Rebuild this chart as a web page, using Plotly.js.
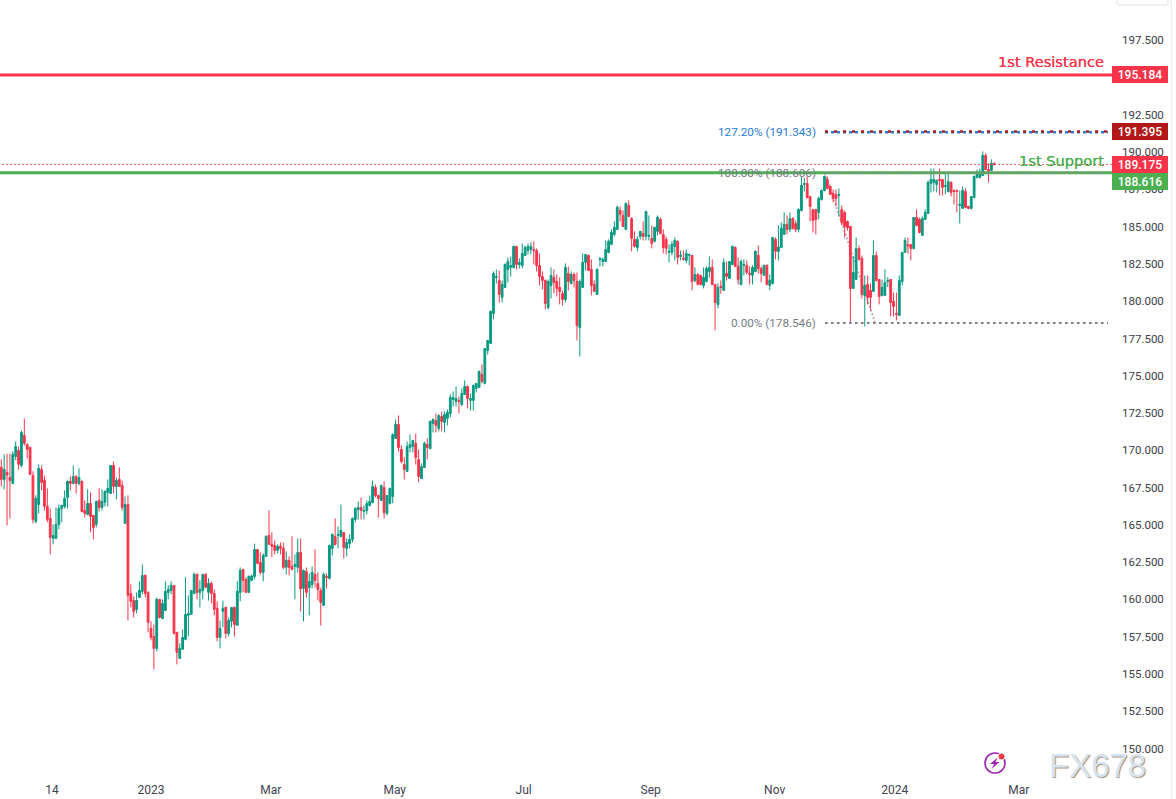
<!DOCTYPE html>
<html><head><meta charset="utf-8">
<script src="https://cdn.plot.ly/plotly-3.0.1.min.js"></script>
<style>html,body{margin:0;padding:0;background:#fff}#c{width:1176px;height:799px}</style></head>
<body><div id="c"></div>
<script>
// Candle direction: R = close below open, G = close above open
const direction = ("RGRRGGRGRR RRGGRRRRGG GGGGRGRGRR GRRGRGGGGR GRRGRRRGGG RRRRGRGGGG RRGGGGGGRG GRGRRRGGRG GRGGRRGGGR RGGRRRGRRG " +
"RRGGRGRGGR RRGRGGRGGR GGGGGRGGGG RRGRGGGGRR RGGGRRGGRG GRGRGGGGGR GGRGGGGRGG GGGRGGGGGR GGGGGRRRRR GGRRRRGRGR " +
"RGGGRRRGGG GGGGGRRGRR RGGRGGRGGR RRGGGRGRGG RGRRGGGRRG RGRGGRRGGR RGGRRGRGGR GGGRGRRGGG RRRRGGGRRR RGRRRRGGRR " +
"GRRGRRGGGRR RGGGRRGRRG GGGGGRRGGR RRGGRRGGGG GRRGR").replace(/ /g,"");

const bodyTop = [
168.86,168.72,168.52,168.18,169.73,170.26,169.99,171.2,171.0,170.4,
170.2,168.32,166.78,168.79,168.72,167.98,166.24,165.43,164.29,165.03,
166.1,166.31,166.78,167.92,167.92,168.25,168.25,168.18,167.92,165.97,
166.44,166.44,165.64,166.57,166.64,166.57,167.25,167.45,168.99,168.99,
167.98,168.05,167.65,166.37,166.37,160.4,159.93,159.93,160.6,161.61,
161.61,160.47,158.06,157.52,160.0,160.0,159.73,160.54,160.67,160.94,
160.94,157.79,156.71,157.45,159.0,159.06,160.6,161.68,161.68,160.67,
161.68,161.68,161.07,161.07,160.4,159.4,158.06,159.4,159.46,158.59,
159.46,159.46,160.54,161.95,162.02,161.34,161.54,161.57,163.35,163.35,
162.48,162.95,164.23,164.29,163.69,163.62,163.56,163.56,163.42,162.62,
162.62,162.21,162.35,163.15,163.15,161.94,161.87,161.2,161.81,161.67,
161.07,160.6,161.67,161.54,163.62,164.36,164.22,164.36,164.62,164.49,
163.82,164.02,165.43,166.1,166.17,166.17,165.97,166.44,166.57,167.58,
167.51,166.97,167.64,167.51,166.97,167.44,171.06,171.74,171.74,170.06,
169.05,170.26,170.39,170.66,170.46,169.39,168.92,170.46,170.39,171.94,
172.07,172.0,172.34,172.27,172.41,172.54,173.55,173.55,173.48,173.35,
173.82,174.28,174.28,173.48,174.35,174.49,175.29,175.09,176.83,177.37,
179.32,181.86,181.66,181.4,181.13,182.47,182.67,182.4,183.68,183.68,
182.6,183.2,183.61,183.68,183.68,183.47,183.41,182.4,181.66,181.4,
181.33,181.73,181.6,181.33,180.93,180.52,182.27,181.86,181.8,181.8,
181.33,181.33,182.61,183.14,183.08,182.14,181.13,182.14,182.88,182.81,
183.48,184.02,184.62,184.96,186.3,186.1,185.76,186.57,186.43,185.56,
184.15,184.15,184.69,184.55,186.03,184.42,184.22,184.96,185.63,185.49,
184.49,184.15,183.35,183.82,184.08,184.02,183.08,182.88,183.21,183.14,
183.08,181.8,181.8,181.73,181.6,182.2,182.27,182.27,181.13,180.93,
181.0,182.61,181.87,182.67,183.68,183.61,182.34,182.67,182.47,182.41,
181.87,182.27,183.35,183.08,182.2,182.41,182.41,181.4,184.28,184.15,
183.64,184.89,185.16,185.16,185.54,185.56,185.2,186.16,187.77,187.9,
187.9,187.03,186.16,186.16,186.9,187.43,188.37,188.17,187.7,187.23,
187.17,187.17,186.16,185.96,185.35,185.02,181.93,183.54,183.54,182.87,
181.06,181.13,180.73,183.07,183.07,181.46,180.93,181.26,181.4,181.46,179.99,
179.18,181.4,183.28,184.08,183.79,183.81,185.62,185.62,185.49,185.56,
185.96,187.97,188.17,188.17,188.11,188.17,188.17,187.77,188.04,187.97,
187.43,187.43,186.5,187.43,187.37,186.36,187.03,188.37,188.51,188.51,
189.78,189.78,188.84,189.25,189.25];

const bodyBottom = [
168.05,168.05,168.34,167.98,167.78,169.59,169.06,168.99,170.47,170.06,
168.39,165.37,165.23,166.37,167.85,166.24,165.37,164.16,164.09,164.09,
165.03,166.1,166.24,166.84,167.78,167.78,167.78,167.78,165.9,165.77,
165.7,165.57,164.83,165.03,166.17,166.17,166.51,167.18,167.11,167.58,
167.58,167.58,166.17,165.1,160.27,159.87,159.2,159.33,160.13,160.54,
160.4,158.46,157.45,156.71,156.71,158.79,158.73,159.26,160.47,160.6,
157.72,156.45,156.04,156.65,157.32,158.93,159.0,160.4,160.47,160.47,
160.6,160.81,160.47,160.4,159.33,157.45,157.45,159.2,157.72,157.72,
158.53,158.32,158.26,160.47,161.28,160.47,160.47,161.28,161.54,162.42,
161.81,161.81,162.89,163.69,163.56,163.29,163.29,163.42,162.15,162.15,
162.15,162.02,162.21,162.15,160.73,160.73,160.47,160.8,161.0,161.27,
160.67,159.79,159.6,161.47,161.41,163.42,163.69,164.29,164.22,163.49,
163.42,163.75,164.02,165.36,166.03,165.97,165.9,165.97,166.3,166.5,
166.97,166.77,166.64,165.83,165.77,166.44,166.91,170.8,170.19,169.25,
168.72,168.58,170.19,170.26,169.52,168.25,168.11,168.85,170.19,170.12,
171.8,171.67,171.47,171.94,171.87,172.14,172.47,173.41,173.28,173.28,
173.08,173.75,173.48,173.35,173.35,174.15,174.22,174.62,174.49,176.7,
177.17,179.18,181.6,180.46,180.25,180.93,182.13,182.27,182.27,182.47,
182.47,182.4,183.07,183.41,183.47,183.41,182.4,181.66,181.4,179.85,
179.58,181.06,181.26,180.86,180.66,180.12,180.12,181.33,181.19,181.4,
178.38,178.24,180.93,182.61,182.07,181.06,180.66,180.46,182.81,182.67,
182.67,183.28,183.82,184.49,184.82,185.83,185.02,184.82,185.69,184.22,
183.68,183.61,184.35,184.35,184.35,184.35,183.88,184.02,184.69,184.55,
183.61,183.55,183.28,183.28,183.68,182.94,183.01,182.81,182.74,183.08,
181.33,181.4,181.13,181.13,181.06,181.33,182.0,181.13,179.92,179.79,
180.93,180.73,181.67,181.53,182.47,182.34,181.47,181.13,182.41,181.94,
181.8,181.74,182.0,182.2,181.87,181.74,181.13,181.06,181.2,183.35,
183.35,183.61,184.49,184.82,184.82,184.89,184.82,184.82,186.09,187.84,
186.96,186.36,185.42,185.49,185.96,186.83,187.43,187.57,187.17,186.9,
186.9,187.1,185.29,185.02,184.95,180.86,180.86,181.46,182.81,180.46,
180.39,180.26,180.26,180.66,181.4,180.32,180.39,180.39,181.33,179.92,179.65,
179.12,179.05,181.33,183.28,183.72,183.54,183.54,185.09,184.62,184.42,
185.49,185.89,187.9,187.97,187.84,188.11,187.64,187.7,187.37,187.3,
187.37,187.37,186.43,186.23,186.3,186.23,186.23,186.96,188.31,188.31,
188.44,188.84,188.71,188.78,189.18];

const wickHigh = [
169.39,169.73,169.77,169.77,169.93,170.6,170.26,171.34,172.14,170.47,
170.2,168.59,166.98,169.06,168.99,168.32,167.45,166.1,165.03,166.17,
166.37,166.31,167.31,167.98,168.25,168.99,168.32,168.79,167.98,166.64,
167.38,167.18,165.64,166.64,167.45,167.38,167.31,168.05,168.99,169.26,
168.18,168.86,167.98,166.91,166.98,161.01,160.2,160.47,161.21,162.35,
161.68,160.54,158.53,158.32,160.13,160.0,160.0,161.21,160.94,161.21,
160.94,157.79,157.05,157.99,161.48,160.27,160.6,161.81,161.75,161.28,
161.68,161.75,161.41,161.21,160.67,159.87,158.59,159.93,159.53,158.79,
159.46,159.53,161.21,162.15,162.02,161.48,161.61,161.68,163.74,163.35,
163.15,163.09,164.29,165.97,164.5,163.96,163.69,163.82,163.82,163.22,
162.89,164.23,163.02,164.09,164.09,162.01,162.14,161.74,162.21,163.35,
161.81,160.8,161.81,161.74,163.69,164.42,165.43,164.89,166.37,164.49,
164.09,164.36,165.5,166.17,166.57,166.84,166.3,166.64,166.97,167.98,
167.71,167.04,167.71,167.91,166.97,167.51,171.13,172.07,172.34,170.33,
169.52,170.59,171.06,170.66,171.13,170.06,169.12,170.59,170.8,172.0,
172.14,172.47,172.41,172.61,172.61,172.74,173.75,173.95,174.28,173.61,
174.15,174.69,174.35,173.82,174.42,174.49,175.36,175.76,176.83,177.37,
179.38,182.0,182.13,182.07,181.4,182.54,182.94,183.0,183.74,183.68,
182.87,183.88,183.74,183.88,183.94,184.01,183.54,183.2,182.0,181.46,
181.46,182.27,182.13,181.8,181.6,180.72,182.54,182.33,182.0,181.93,
181.93,181.46,183.21,183.14,183.14,182.81,181.4,182.21,182.94,182.94,
184.08,184.15,184.82,185.36,186.43,186.36,186.1,186.63,186.77,185.63,
184.69,184.35,184.69,185.36,186.03,185.76,185.09,184.96,185.76,185.63,
184.82,184.35,183.82,184.02,184.28,184.08,183.41,183.41,183.48,183.19,
183.08,182.27,181.87,181.8,182.27,182.34,183.01,182.81,181.13,181.2,
181.4,182.88,182.67,182.67,183.75,183.68,182.94,182.81,182.81,182.74,
182.34,182.41,183.41,183.75,182.34,182.41,182.47,181.8,184.28,184.28,
185.09,185.29,185.96,185.76,185.96,185.63,185.42,186.23,188.37,188.28,
188.37,187.08,186.16,186.16,187.03,187.5,188.44,188.37,187.77,187.5,
187.5,187.57,186.43,186.09,185.42,185.02,183.03,184.28,183.74,183.07,
181.73,181.73,181.2,184.08,183.34,181.46,181.46,182.13,181.62,181.46,180.59,
180.59,181.73,183.28,184.28,184.28,183.81,185.62,186.16,185.62,185.69,
186.16,188.11,188.91,188.91,188.17,188.91,188.17,188.64,188.64,188.04,
187.5,187.5,187.43,187.7,187.57,186.36,187.03,188.44,188.84,188.91,
190.05,189.92,189.25,189.52,189.31];

const wickLow = [
167.58,167.38,164.96,165.43,167.78,169.33,168.72,168.86,170.33,169.46,
168.32,165.1,165.1,165.77,167.31,165.97,165.17,163.02,163.69,164.09,
164.7,165.17,166.1,166.1,167.31,167.72,167.11,167.65,165.84,165.5,
165.64,164.5,164.03,164.83,165.9,165.97,166.24,166.24,167.11,167.11,
166.71,167.58,165.97,165.1,158.59,159.46,158.79,159.06,160.13,160.34,
160.13,157.79,157.25,155.31,156.51,158.73,158.66,159.26,160.0,160.34,
157.65,155.64,156.04,156.65,157.25,157.52,159.0,160.34,160.0,159.46,
160.0,160.81,159.93,159.73,158.93,157.18,156.71,158.12,157.39,157.52,
158.12,157.52,158.26,159.87,160.47,160.47,160.47,161.21,161.34,162.35,
161.68,161.21,162.89,163.69,162.82,163.02,163.09,163.02,162.02,161.68,
161.61,161.95,160.0,161.81,159.19,158.52,160.13,158.92,160.73,160.8,
159.93,158.25,159.6,160.73,161.34,162.95,163.62,163.42,164.16,162.75,
162.88,163.42,163.82,165.16,165.36,165.36,165.36,165.7,166.24,166.44,
166.84,165.5,166.64,165.43,165.63,166.37,166.44,170.8,169.92,169.12,
168.05,168.58,169.86,169.86,169.05,167.85,168.11,168.85,169.39,170.06,
171.2,171.2,171.27,171.27,171.2,171.67,172.2,172.94,172.94,172.47,
172.94,173.75,172.81,172.67,172.67,173.88,174.22,174.49,174.42,176.43,
177.17,178.78,181.19,179.92,179.92,180.93,181.26,181.66,182.2,182.13,
182.2,182.2,183.07,183.14,183.14,182.47,182.0,181.06,180.79,179.45,
179.45,180.19,180.52,180.32,179.79,179.72,179.92,180.72,181.13,180.93,
177.37,176.3,180.93,182.07,182.07,180.39,180.66,180.46,182.34,182.34,
182.67,183.21,183.75,184.35,184.82,185.36,185.02,184.82,185.63,183.35,
183.61,183.35,184.15,184.08,184.08,184.08,183.55,183.95,184.42,184.49,
183.21,183.14,182.61,183.08,182.74,182.47,182.74,182.74,182.54,182.41,
180.73,181.27,181.06,181.06,180.86,181.27,181.6,181.06,178.05,179.52,
180.5,180.73,181.4,181.53,182.41,182.34,181.13,181.06,181.74,181.8,
181.13,181.13,181.94,181.87,181.27,181.74,181.06,180.73,181.13,182.81,
182.74,183.61,184.49,184.49,184.64,184.82,184.64,184.62,186.03,187.37,
186.9,185.35,184.62,184.48,185.49,186.76,187.37,187.5,187.17,186.63,
186.36,185.69,185.09,184.28,184.75,178.58,180.86,181.46,182.74,180.19,
178.31,179.79,179.38,180.66,181.33,179.79,180.32,180.39,180.95,178.98,178.98,
178.72,179.05,181.06,183.28,183.19,182.74,183.48,185.02,184.55,184.42,
185.49,185.89,187.3,187.37,187.3,187.1,187.1,187.17,187.3,187.03,
186.5,185.96,185.22,186.23,186.23,186.16,186.16,186.9,188.24,188.24,
188.44,188.84,187.97,188.78,189.11];

// Price levels
const resistanceLevel = 195.184;
const supportLevel = 188.616;
const lastPrice = 189.175;
const fibHighBadge = 191.395;
const fib127 = 191.343;
const fib100 = 188.606;
const fib0 = 178.546;

// Axis labels
const yTickValues = [150,152.5,155,157.5,160,162.5,165,167.5,170,172.5,175,177.5,180,182.5,185,187.5,190,192.5,195,197.5];
const xTickIndex = [17.6,52,93.6,136.7,181.5,225.6,268.7,310.4,353.5];
const xTickLabels = ["14","2023","Mar","May","Jul","Sep","Nov","2024","Mar"];

const index = direction.split("").map((_, i) => i);
const opens = index.map(i => direction[i] === "G" ? bodyBottom[i] : bodyTop[i]);
const closes = index.map(i => direction[i] === "G" ? bodyTop[i] : bodyBottom[i]);

const W = 1112, H = 775;
const px = v => v / W, py = v => 1 - v / H;
const fibStart = 286.2, fibEnd = 384.5, trendEnd = 303.6;

const levelLine = (y, x0, x1, color, width, dash) => ({type:"line", xref:"x", yref:"y", x0, x1, y0:y, y1:y, line:{color, width, dash}, layer:"above"});

const shapes = [
  {type:"line", xref:"x", yref:"y", x0:fibStart, x1:trendEnd, y0:fib100, y1:fib0, line:{color:"#b4b4b8", width:2, dash:"2px,2px"}, layer:"below"},
  levelLine(lastPrice, -1, 386, "#f7344a", 1, "1.5px,2.5px"),
  levelLine(resistanceLevel, -1, 386, "#f7344a", 3, "solid"),
  levelLine(supportLevel, -1, 386, "#4caf50", 3, "solid"),
  levelLine(fib100, fibStart, fibEnd, "#8a8a90", 2, "2.5px,3.5px"),
  levelLine(fib0, fibStart, fibEnd, "#787b86", 2, "2.5px,3.5px"),
  levelLine(fib127, fibStart, fibEnd, "#2a7bd4", 2.5, "3px,3px"),
  levelLine(fibHighBadge, fibStart, fibEnd, "#b21818", 2.5, "3px,6px"),
  // window furniture
  {type:"line", xref:"paper", yref:"paper", x0:px(1171.5), x1:px(1171.5), y0:py(0), y1:py(799), line:{color:"#eef0f4", width:1.5}},
  {type:"path", xref:"paper", yref:"paper", path:`M ${px(1117)} ${py(0)} L ${px(1117)} ${py(3)} Q ${px(1117)} ${py(5)} ${px(1119)} ${py(5)} L ${px(1166)} ${py(5)} Q ${px(1168)} ${py(5)} ${px(1168)} ${py(3)} L ${px(1168)} ${py(0)}`, line:{color:"#e0e3eb", width:1}},
  // lightning badge
  {type:"circle", xref:"paper", yref:"paper", x0:px(985), x1:px(1005), y0:py(773), y1:py(753), line:{color:"#9c27b0", width:1.6}},
  {type:"path", xref:"paper", yref:"paper", path:`M ${px(997.5)} ${py(757.5)} L ${px(990)} ${py(764)} L ${px(994)} ${py(764)} L ${px(991.5)} ${py(769)} L ${px(999.5)} ${py(762)} L ${px(995.5)} ${py(762)} Z`, fillcolor:"#9c27b0", line:{width:0}},
  {type:"circle", xref:"paper", yref:"paper", x0:px(998), x1:px(1005), y0:py(760), y1:py(753), fillcolor:"#f23645", line:{color:"#ffffff", width:1}}
];

const badge = (y, text, bg, shift) => ({xref:"paper", yref:"y", x:1, y, xanchor:"left", yanchor:"middle", yshift:shift, text, showarrow:false,
  width:56, height:17, borderpad:0, borderwidth:0, bgcolor:bg, align:"center", font:{family:"Roboto", size:12, color:"#ffffff", weight:500}});
const fibLabel = (y, text, color) => ({xref:"x", yref:"y", x:fibStart, y, xanchor:"right", yanchor:"middle", xshift:-7, text, showarrow:false, font:{family:"Roboto", size:11.7, color}});

const annotations = [
  fibLabel(fib127, "127.20% (" + fib127.toFixed(3) + ")", "#2a7bd4"),
  fibLabel(fib100, "100.00% (" + fib100.toFixed(3) + ")", "#787b86"),
  fibLabel(fib0, "0.00% (" + fib0.toFixed(3) + ")", "#787b86"),
  badge(resistanceLevel, resistanceLevel.toFixed(3), "#f7344a", 0),
  badge(fibHighBadge, fibHighBadge.toFixed(3), "#b21818", 0),
  badge(lastPrice, lastPrice.toFixed(3), "#f7344a", 0),
  badge(supportLevel, supportLevel.toFixed(3), "#4caf50", -9),
  {xref:"paper", yref:"y", x:1, y:resistanceLevel, xanchor:"right", yanchor:"middle", xshift:-6, yshift:13, text:"1st Resistance", showarrow:false, font:{family:"DejaVu Sans", size:14.6, color:"#f7344a", shadow:"0 0 0.6px #f7344a"}},
  {xref:"paper", yref:"y", x:1, y:supportLevel, xanchor:"right", yanchor:"middle", xshift:-6, yshift:12, text:"1st Support", showarrow:false, font:{family:"DejaVu Sans", size:14.6, color:"#4caf50", shadow:"0 0 0.6px #4caf50"}},
  {xref:"paper", yref:"paper", x:px(1097), y:py(765), xanchor:"center", yanchor:"middle", text:"FX678", showarrow:false, font:{family:"Liberation Sans", size:33, color:"#d6e4f2", shadow:"1px 1px 1px #a89080"}}
];

Plotly.newPlot("c", [{
  type:"candlestick", x:index, open:opens, high:wickHigh, low:wickLow, close:closes,
  increasing:{line:{color:"#089981", width:1}, fillcolor:"#089981"},
  decreasing:{line:{color:"#f7344a", width:1}, fillcolor:"#f7344a"},
  whiskerwidth:0, hoverinfo:"skip", showlegend:false
}], {
  width:1176, height:799, margin:{l:0, r:64, t:0, b:24, pad:0},
  paper_bgcolor:"#ffffff", plot_bgcolor:"#ffffff", showlegend:false, boxgap:0.12,
  xaxis:{range:[-0.45,385.9], rangeslider:{visible:false}, showgrid:false, zeroline:false, showline:false, ticks:"",
    tickmode:"array", tickvals:xTickIndex, ticktext:xTickLabels, tickfont:{family:"Roboto", size:12, color:"#3f4250"}, ticklabelstandoff:6},
  yaxis:{side:"right", range:[148.22,200.21], showgrid:false, zeroline:false, showline:false, ticks:"",
    tickmode:"array", tickvals:yTickValues, ticktext:yTickValues.map(v => v.toFixed(3)), tickfont:{family:"Roboto", size:11.5, color:"#3a3d4a"}, ticklabelstandoff:9},
  shapes, annotations, hovermode:false
}, {staticPlot:true, displayModeBar:false});
</script></body></html>
